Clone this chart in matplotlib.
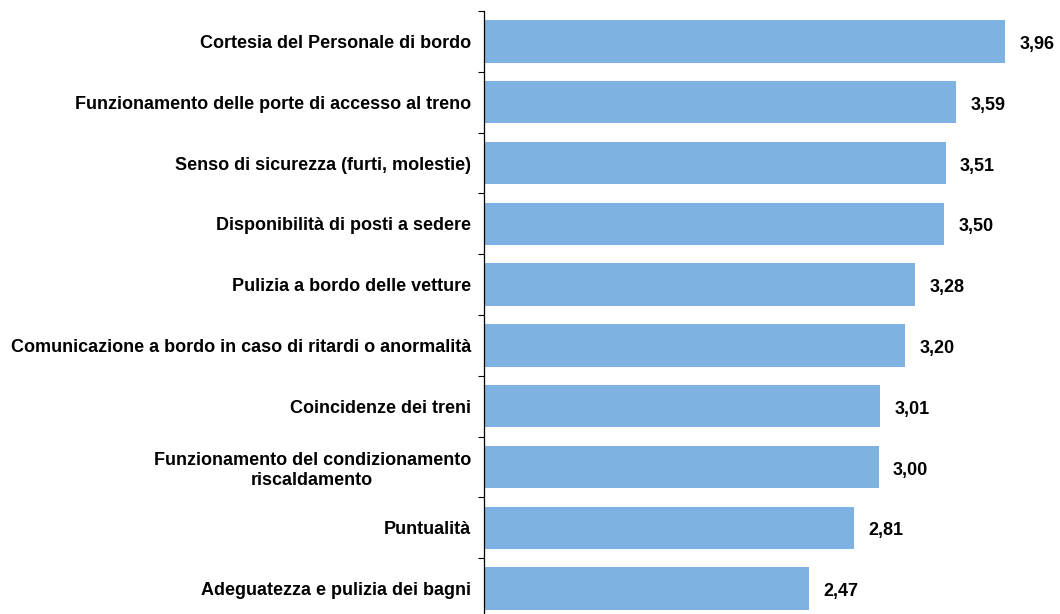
import matplotlib
matplotlib.use("Agg")
import matplotlib.pyplot as plt

plt.rcParams['font.family'] = ['Liberation Sans', 'DejaVu Sans']

categorie = [
    "Cortesia del Personale di bordo",
    "Funzionamento delle porte di accesso al treno",
    "Senso di sicurezza (furti, molestie)",
    "Disponibilità di posti a sedere",
    "Pulizia a bordo delle vetture",
    "Comunicazione a bordo in caso di ritardi o anormalità",
    "Coincidenze dei treni",
    "Funzionamento del condizionamento\nriscaldamento",
    "Puntualità",
    "Adeguatezza e pulizia dei bagni",
]
valori = [3.96, 3.59, 3.51, 3.50, 3.28, 3.20, 3.01, 3.00, 2.81, 2.47]
etichette = [f"{v:.2f}".replace(".", ",") for v in valori]

W, H = 1060, 614
fig = plt.figure(figsize=(W / 100, H / 100), dpi=100)
# asse: x da 484px al bordo destro, y da 11px fino a sotto il bordo (taglio)
ax = fig.add_axes([484 / W, -5 / H, 1 - 484 / W, 608 / H])

pos = list(range(len(categorie)))
ax.barh(pos, valori, height=0.70, color='#7EB2E0', zorder=2)
ax.set_ylim(len(categorie) - 0.5, -0.5)
ax.set_xlim(0, (W - 484) / 131.5)

for p, v, t in zip(pos, valori, etichette):
    ax.text(v + 0.11, p + 0.05, t, va='center', ha='left',
            fontsize=13, fontweight='bold', color='black')

# etichette categorie
ax.set_yticks(pos)
ax.set_yticklabels(categorie, fontsize=13, fontweight='bold')
for lab in ax.get_yticklabels():
    lab.set_multialignment('center')
ax.tick_params(axis='y', which='major', length=0, pad=9.5)

# tacche ai confini di categoria
ax.set_yticks([i - 0.5 for i in range(len(categorie) + 1)], minor=True)
ax.tick_params(axis='y', which='minor', length=4, width=0.8, direction='out')

ax.set_xticks([])
for s in ['top', 'right', 'bottom']:
    ax.spines[s].set_visible(False)
ax.spines['left'].set_linewidth(0.9)

fig.savefig("out.png", dpi=100)
